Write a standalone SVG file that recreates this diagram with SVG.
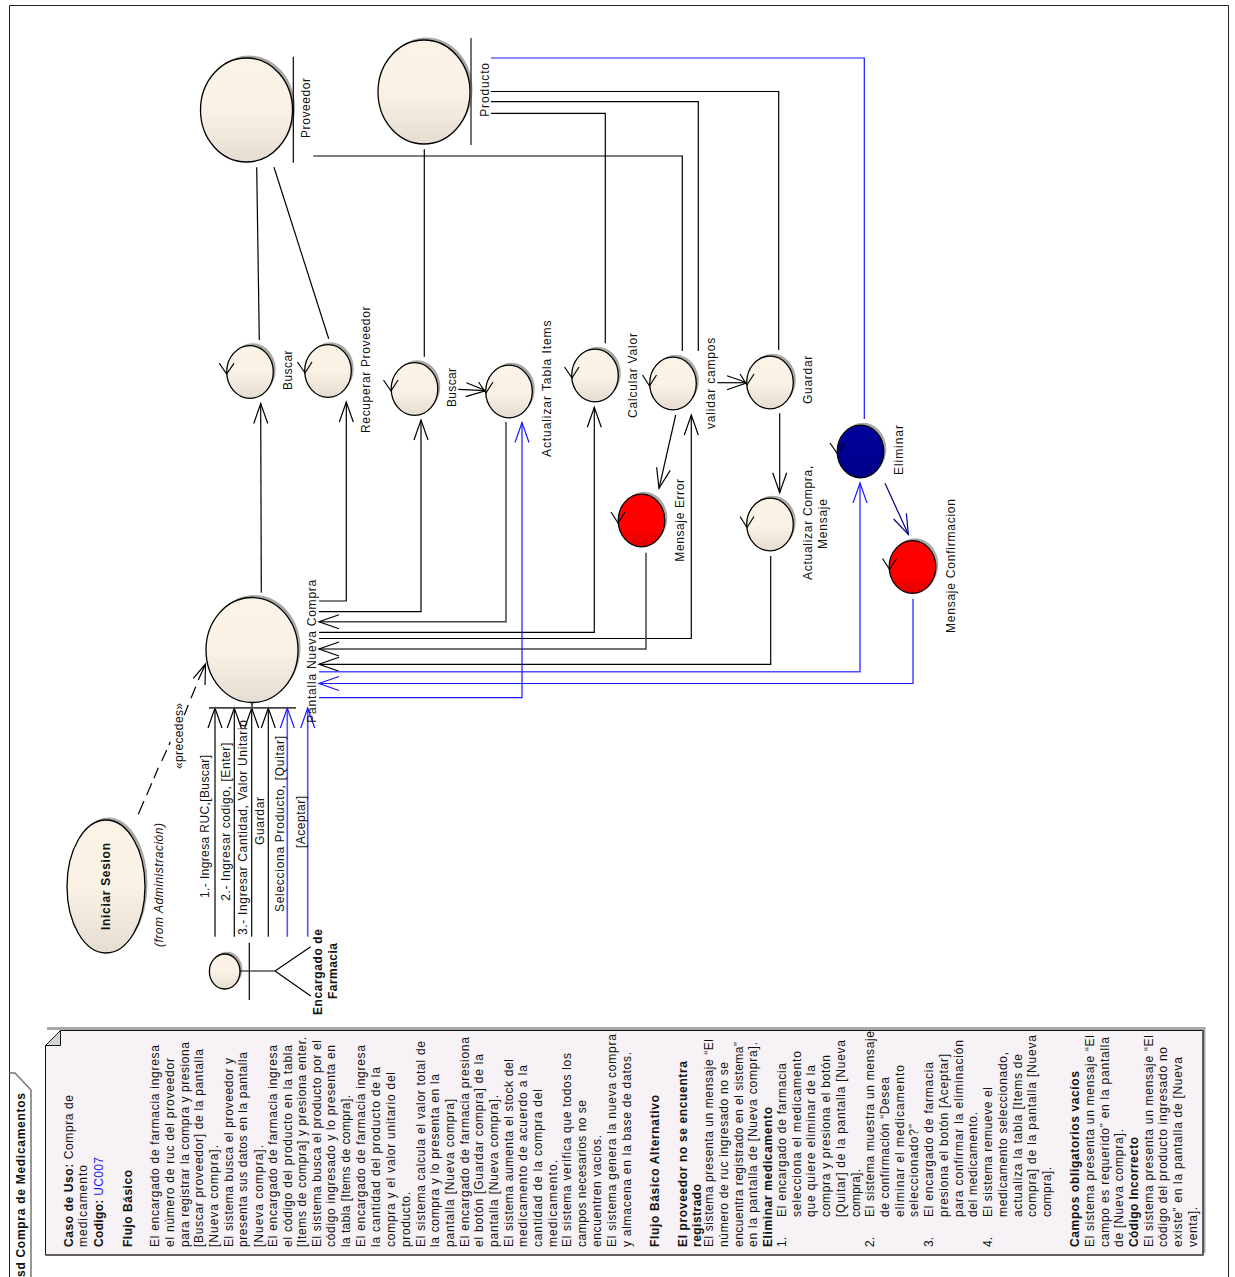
<svg xmlns="http://www.w3.org/2000/svg" width="1235" height="1277" viewBox="0 0 1235 1277">
<style>
text{font-family:"Liberation Sans",Arial,sans-serif;font-size:12px;fill:#111}
.b{font-weight:bold}
.i{font-style:italic}
.s{fill:#a9a7a7;stroke:none}
.n{fill:url(#cream);stroke:#000;stroke-width:1.3}
.r{fill:url(#red);stroke:#000;stroke-width:1.3}
.v{fill:url(#navy);stroke:#000;stroke-width:1.3}
.m{fill:none;stroke:#000;stroke-width:1.2}
.c{fill:none;stroke:#000;stroke-width:1.2}
.c2{fill:none;stroke:#444;stroke-width:1.5}
.bl{fill:none;stroke:#1a1aff;stroke-width:1.2}
.bl2{fill:none;stroke:#5050ff;stroke-width:1.6}
.nv{fill:none;stroke:#00008b;stroke-width:1.2}
.ab{marker-end:url(#ah)}
.au{marker-end:url(#ahb)}
.an{marker-end:url(#ahn)}
</style>
<defs>
<linearGradient id="cream" x1="0" y1="0" x2="0" y2="1"><stop offset="0" stop-color="#FBF3E6"/><stop offset="0.5" stop-color="#FAF2E5"/><stop offset="1" stop-color="#E5DDD1"/></linearGradient>
<linearGradient id="red" x1="0" y1="0" x2="0" y2="1"><stop offset="0" stop-color="#ff0000"/><stop offset="0.65" stop-color="#ff0000"/><stop offset="1" stop-color="#e00000"/></linearGradient>
<linearGradient id="navy" x1="0" y1="0" x2="0" y2="1"><stop offset="0" stop-color="#00009c"/><stop offset="1" stop-color="#00008a"/></linearGradient>
<marker id="ah" markerUnits="userSpaceOnUse" markerWidth="26" markerHeight="20" refX="23" refY="10" orient="auto"><path d="M3,3 L23,10 L3,17" fill="none" stroke="#000" stroke-width="1.2"/></marker>
<marker id="ahb" markerUnits="userSpaceOnUse" markerWidth="26" markerHeight="20" refX="23" refY="10" orient="auto"><path d="M3,3 L23,10 L3,17" fill="none" stroke="#1a1aff" stroke-width="1.2"/></marker>
<marker id="ahn" markerUnits="userSpaceOnUse" markerWidth="26" markerHeight="20" refX="23" refY="10" orient="auto"><path d="M3,3 L23,10 L3,17" fill="none" stroke="#00008b" stroke-width="1.2"/></marker>
</defs>
<rect width="1235" height="1277" fill="#fff"/>
<g id="frame">
<path d="M9.5,1277 V5.5 H1228.5 V1277" fill="none" stroke="#222" stroke-width="1"/>
<path d="M9.5,1073 H15 L31,1090 V1277" fill="none" stroke="#777" stroke-width="1.5"/>
<text class="b" transform="translate(25,1277) rotate(-90)" textLength="184">sd Compra de Medicamentos</text>
</g>
<g id="connectors">
<path class="c ab" d="M261.3,592.7 L260.7,403.5"/>
<path class="c ab" d="M319,601 H346.3 V402"/>
<path class="c ab" d="M319,611.7 H421 V420"/>
<path class="c2 ab" d="M506,422 V621.7 H319"/>
<path class="c ab" d="M319,632.3 H594.3 V407.3"/>
<path class="c ab" d="M319,638.5 H691.3 V415"/>
<path class="c2 ab" d="M646,552.7 V649 H319"/>
<path class="c ab" d="M770.7,556 V664.3 H319"/>
<path class="bl2 au" d="M319,671.7 H860 V483"/>
<path class="bl au" d="M913,598.7 V683.5 H319"/>
<path class="bl au" d="M319,697.7 H522 V422.5"/>
<path class="c" d="M259.3,340 L256.7,167.3"/>
<path class="c" d="M328.7,338.7 L274,167.3"/>
<path class="c" d="M424.3,356.7 V149.3"/>
<path class="c ab" d="M458.3,389.3 L486,390.7"/>
<path class="c ab" d="M717.3,382.7 H747"/>
<path class="c ab" d="M779.7,413.3 V492.7"/>
<path class="c ab" d="M675.7,415 L659,488.3"/>
<path class="nv an" d="M885,483.3 L908.3,534.3"/>
<path class="bl" d="M864.3,419 V58 H491"/>
<path class="c" d="M491,91.5 H778.7 V350"/>
<path class="c" d="M491,101.7 H698.3 V351"/>
<path class="c" d="M491,113.3 H605.3 V343.3"/>
<path class="c" d="M313.3,156 H682.3 V351"/>
<path class="c ab" d="M215,936.7 V708"/>
<path class="c ab" d="M234.3,936.7 V708"/>
<path class="c ab" d="M251.7,936.7 V708"/>
<path class="c ab" d="M268.3,936.7 V708"/>
<path class="bl2 au" d="M287.3,936.7 V708"/>
<path class="bl2 au" d="M307.7,936.7 V708"/>
<path class="c" d="M138.3,814.3 L144,801 M146.7,795 L151.7,783.3 M154,778.3 L158.3,767.7 M161.7,761 L166.7,750 M169,745 L170.3,741.7 M184.3,715 L188.3,705 M191,698.3 L195.7,686.7 M198.3,680 L205.5,664 M193.3,678.3 L205.5,664 L205,685"/>
</g>
<g id="label-actor-msgs">
<text transform="translate(209.3,898) rotate(-90)" textLength="143">1.- Ingresa RUC,[Buscar]</text>
<text transform="translate(230,900.7) rotate(-90)" textLength="158">2.- Ingresar codigo, [Enter]</text>
<text transform="translate(247.3,935) rotate(-90)" textLength="215">3.- Ingresar Cantidad, Valor Unitario</text>
<text transform="translate(264,845) rotate(-90)" textLength="48">Guardar</text>
<text transform="translate(284,912) rotate(-90)" textLength="176">Selecciona Producto, [Quitar]</text>
<text transform="translate(305,848) rotate(-90)" textLength="52">[Aceptar]</text>
<text transform="translate(182.7,769) rotate(-90)" textLength="66">«precedes»</text>
</g>
<g id="uc-iniciar-sesion">
<ellipse class="s" cx="108.5" cy="884" rx="39" ry="66.5"/>
<ellipse class="n" cx="106" cy="886.5" rx="39" ry="66.5"/>
<text class="b" transform="translate(110,930) rotate(-90)" textLength="87">Iniciar Sesion</text>
<text class="i" transform="translate(163,947) rotate(-90)" textLength="124">(from Administración)</text>
</g>
<g id="actor-encargado">
<ellipse class="s" cx="227" cy="969.2" rx="15.3" ry="17.5"/>
<ellipse class="n" cx="224.7" cy="971.5" rx="15.3" ry="17.5"/>
<path class="c" d="M240,971 H275 M249.3,942.7 V1000 M310.7,946.7 L275,971 L310.7,996"/>
<text class="b" transform="translate(321.7,1015) rotate(-90)" textLength="86">Encargado de</text>
<text class="b" transform="translate(337,999) rotate(-90)" textLength="56">Farmacia</text>
</g>
<g id="boundary-pantalla">
<ellipse class="s" cx="254.5" cy="647.5" rx="46" ry="52.5"/>
<ellipse class="n" cx="252" cy="650" rx="46" ry="52.5"/>
<path d="M252,702.5 V708" class="c"/>
<path d="M209,707.8 H296" fill="none" stroke="#444" stroke-width="1.8"/>
<text transform="translate(316,722.7) rotate(-90)" textLength="143">Pantalla Nueva Compra</text>
</g>
<g id="entity-proveedor">
<ellipse class="s" cx="249" cy="107.5" rx="46" ry="52"/>
<ellipse class="n" cx="246.5" cy="110" rx="46" ry="52"/>
<path class="c" d="M293.3,56.7 V162.7"/>
<text transform="translate(310.3,138) rotate(-90)" textLength="60">Proveedor</text>
</g>
<g id="entity-producto">
<ellipse class="s" cx="426.5" cy="89.5" rx="46" ry="52"/>
<ellipse class="n" cx="424" cy="92" rx="46" ry="52"/>
<path d="M471,38 V145" fill="none" stroke="#444" stroke-width="1.5"/>
<text transform="translate(488.5,116.7) rotate(-90)" textLength="53.7">Producto</text>
</g>
<g id="ctl-buscar-1">
<ellipse class="s" cx="252.5" cy="369.5" rx="23.3" ry="26.3"/><ellipse class="n" cx="250" cy="372" rx="23.3" ry="26.3"/>
<path class="m" d="M219.3,363.3 L226.7,374 L234,363.3"/>
<text transform="translate(291.5,390) rotate(-90)" textLength="39.5">Buscar</text>
</g>
<g id="ctl-recuperar-proveedor">
<ellipse class="s" cx="330.5" cy="368.5" rx="23.3" ry="26.3"/><ellipse class="n" cx="328" cy="371" rx="23.3" ry="26.3"/>
<path class="m" d="M297.5,362 L305,373 L312,362"/>
<text transform="translate(370,433) rotate(-90)" textLength="126.5">Recuperar Proveedor</text>
</g>
<g id="ctl-buscar-2">
<ellipse class="s" cx="417" cy="386.5" rx="23.3" ry="26.3"/><ellipse class="n" cx="414.5" cy="389" rx="23.3" ry="26.3"/>
<path class="m" d="M383.5,380 L391,391 L398,380"/>
<text transform="translate(455.7,407) rotate(-90)" textLength="39">Buscar</text>
</g>
<g id="ctl-actualizar-tabla">
<ellipse class="s" cx="511.5" cy="389" rx="23.3" ry="26.3"/><ellipse class="n" cx="509" cy="391.5" rx="23.3" ry="26.3"/>
<path class="m" d="M478.5,382 L486,393 L493,382"/>
<text transform="translate(550.7,457) rotate(-90)" textLength="136.5">Actualizar Tabla Items</text>
</g>
<g id="ctl-calcular-valor">
<ellipse class="s" cx="597.5" cy="373" rx="23.3" ry="26.3"/><ellipse class="n" cx="595" cy="375.5" rx="23.3" ry="26.3"/>
<path class="m" d="M564.5,367 L572,378 L579,367"/>
<text transform="translate(636.7,418) rotate(-90)" textLength="85">Calcular Valor</text>
</g>
<g id="ctl-validar-campos">
<ellipse class="s" cx="675.5" cy="381" rx="23.3" ry="26.3"/><ellipse class="n" cx="673" cy="383.5" rx="23.3" ry="26.3"/>
<path class="m" d="M642.5,375 L649.5,386 L656.5,375"/>
<text transform="translate(715,429) rotate(-90)" textLength="91.3">validar campos</text>
</g>
<g id="ctl-guardar">
<ellipse class="s" cx="772.5" cy="380" rx="23.3" ry="26.3"/><ellipse class="n" cx="770" cy="382.5" rx="23.3" ry="26.3"/>
<path class="m" d="M740,374 L747,385 L754,374"/>
<text transform="translate(812,404) rotate(-90)" textLength="48.3">Guardar</text>
</g>
<g id="ctl-actualizar-compra">
<ellipse class="s" cx="772.5" cy="522" rx="23.3" ry="26.3"/><ellipse class="n" cx="770" cy="524.5" rx="23.3" ry="26.3"/>
<path class="m" d="M740,516.5 L747,527.5 L754,516.5"/>
<text transform="translate(812,580) rotate(-90)" textLength="114.3">Actualizar Compra,</text>
<text transform="translate(827,549) rotate(-90)" textLength="50">Mensaje</text>
</g>
<g id="ctl-mensaje-error">
<ellipse class="s" cx="644" cy="518" rx="23.3" ry="26.3"/><ellipse class="r" cx="641.5" cy="520.5" rx="23.3" ry="26.3"/>
<path class="m" d="M611,512 L618,523 L625,512"/>
<text transform="translate(683.5,561.7) rotate(-90)" textLength="82.7">Mensaje Error</text>
</g>
<g id="ctl-eliminar">
<ellipse class="s" cx="863" cy="449" rx="23.3" ry="26.3"/><ellipse class="v" cx="860.5" cy="451.5" rx="23.3" ry="26.3"/>
<path class="m" d="M830,443 L837.5,454 L844.5,443"/>
<text transform="translate(902.7,475) rotate(-90)" textLength="50">Eliminar</text>
</g>
<g id="ctl-mensaje-confirmacion">
<ellipse class="s" cx="915" cy="564.5" rx="23.3" ry="26.3"/><ellipse class="r" cx="912.5" cy="567" rx="23.3" ry="26.3"/>
<path class="m" d="M882.5,558.5 L889.5,569.5 L896.5,558.5"/>
<text transform="translate(955,633) rotate(-90)" textLength="134">Mensaje Confirmacion</text>
</g>
<g id="note">
<path d="M47,1027 H1205.5 V1253 H1203 V1030 H47Z" fill="#a8a8a8"/>
<path d="M45.5,1045.5 L60.5,1030.5 H1203 V1255 H45.5 Z" fill="#F6F2F6" stroke="#111" stroke-width="1"/>
<path d="M45.5,1255 H1203 V1030" fill="none" stroke="#555" stroke-width="1.6"/>
<path d="M45.5,1045.5 L60.5,1030.5 V1045.5 Z" fill="#d6d3d6" stroke="#111" stroke-width="1"/>
<text transform="translate(72.7,1247) rotate(-90)" textLength="152"><tspan class="b">Caso de Uso:</tspan> Compra de</text>
<text transform="translate(87.3,1247) rotate(-90)" textLength="82">medicamento</text>
<text transform="translate(102.7,1247) rotate(-90)" textLength="90"><tspan class="b">Codigo:</tspan> <tspan fill="#1a1ae0">UC007</tspan></text>
<text class="b" transform="translate(131.7,1247) rotate(-90)" textLength="77">Flujo Básico</text>
<text transform="translate(159.3,1247) rotate(-90)" textLength="202">El encargado de farmacia ingresa</text>
<text transform="translate(174,1247) rotate(-90)" textLength="189">el número de ruc del proveedor</text>
<text transform="translate(188.7,1247) rotate(-90)" textLength="205">para registrar la compra y presiona</text>
<text transform="translate(203.3,1247) rotate(-90)" textLength="198">[Buscar proveedor] de la pantalla</text>
<text transform="translate(218,1247) rotate(-90)" textLength="102">[Nueva compra].</text>
<text transform="translate(232.7,1247) rotate(-90)" textLength="189">El sistema busca el proveedor y</text>
<text transform="translate(247.3,1247) rotate(-90)" textLength="195">presenta sus datos en la pantalla</text>
<text transform="translate(262.5,1247) rotate(-90)" textLength="102">[Nueva compra].</text>
<text transform="translate(277.3,1247) rotate(-90)" textLength="202">El encargado de farmacia ingresa</text>
<text transform="translate(292,1247) rotate(-90)" textLength="202">el código del producto en la tabla</text>
<text transform="translate(306,1247) rotate(-90)" textLength="210">[Items de compra] y presiona enter.</text>
<text transform="translate(320.7,1247) rotate(-90)" textLength="207">El sistema busca el producto por el</text>
<text transform="translate(335.3,1247) rotate(-90)" textLength="202">código ingresado y lo presenta en</text>
<text transform="translate(350,1247) rotate(-90)" textLength="152">la tabla [Items de compra].</text>
<text transform="translate(365.3,1247) rotate(-90)" textLength="202">El encargado de farmacia ingresa</text>
<text transform="translate(380,1247) rotate(-90)" textLength="180">la cantidad del producto de la</text>
<text transform="translate(395.3,1247) rotate(-90)" textLength="175">compra y el valor unitario del</text>
<text transform="translate(409.5,1247) rotate(-90)" textLength="55">producto.</text>
<text transform="translate(424.5,1247) rotate(-90)" textLength="206">El sistema calcula el valor total de</text>
<text transform="translate(439.3,1247) rotate(-90)" textLength="173">la compra y lo presenta en la</text>
<text transform="translate(454,1247) rotate(-90)" textLength="148">pantalla [Nueva compra]</text>
<text transform="translate(468.7,1247) rotate(-90)" textLength="210">El encargado de farmacia presiona</text>
<text transform="translate(483.3,1247) rotate(-90)" textLength="193">el botón [Guardar compra] de la</text>
<text transform="translate(498,1247) rotate(-90)" textLength="152">pantalla [Nueva compra].</text>
<text transform="translate(512.7,1247) rotate(-90)" textLength="188">El sistema aumenta el stock del</text>
<text transform="translate(527.3,1247) rotate(-90)" textLength="182">medicamento de acuerdo a la</text>
<text transform="translate(542,1247) rotate(-90)" textLength="158">cantidad de la compra del</text>
<text transform="translate(556.7,1247) rotate(-90)" textLength="87">medicamento.</text>
<text transform="translate(571.3,1247) rotate(-90)" textLength="194">El sistema verifica que todos los</text>
<text transform="translate(586,1247) rotate(-90)" textLength="147">campos necesarios no se</text>
<text transform="translate(601,1247) rotate(-90)" textLength="112">encuentren vacíos.</text>
<text transform="translate(615.7,1247) rotate(-90)" textLength="213">El sistema genera la nueva compra</text>
<text transform="translate(630.7,1247) rotate(-90)" textLength="195">y almacena en la base de datos.</text>
<text class="b" transform="translate(659.3,1247) rotate(-90)" textLength="152">Flujo Básico Alternativo</text>
<text class="b" transform="translate(686.7,1247) rotate(-90)" textLength="186">El proveedor no se encuentra</text>
<text class="b" transform="translate(700.7,1247) rotate(-90)" textLength="63">registrado</text>
<text transform="translate(713.3,1247) rotate(-90)" textLength="208">El sistema presenta un mensaje “El</text>
<text transform="translate(728,1247) rotate(-90)" textLength="185">número de ruc ingresado no se</text>
<text transform="translate(742.7,1247) rotate(-90)" textLength="205">encuentra registrado en el sistema”</text>
<text transform="translate(757.3,1247) rotate(-90)" textLength="205">en la pantalla de [Nueva compra].</text>
<text class="b" transform="translate(772,1247) rotate(-90)" textLength="140">Eliminar medicamento</text>
<text transform="translate(786,1247) rotate(-90)">1.</text>
<text transform="translate(786,1217) rotate(-90)" textLength="154">El encargado de farmacia</text>
<text transform="translate(800.7,1217) rotate(-90)" textLength="166">selecciona el medicamento</text>
<text transform="translate(815.3,1217) rotate(-90)" textLength="152">que quiere eliminar de la</text>
<text transform="translate(830,1217) rotate(-90)" textLength="162">compra y presiona el botón</text>
<text transform="translate(845,1217) rotate(-90)" textLength="177">[Quitar] de la pantalla [Nueva</text>
<text transform="translate(859.5,1217) rotate(-90)" textLength="48">compra].</text>
<text transform="translate(874.3,1247) rotate(-90)">2.</text>
<text transform="translate(874.3,1217) rotate(-90)" textLength="186">El sistema muestra un mensaje</text>
<text transform="translate(889,1217) rotate(-90)" textLength="140">de confirmación “Desea</text>
<text transform="translate(903.5,1217) rotate(-90)" textLength="152">eliminar el medicamento</text>
<text transform="translate(918.3,1217) rotate(-90)" textLength="93">seleccionado?”</text>
<text transform="translate(933.3,1247) rotate(-90)">3.</text>
<text transform="translate(933.3,1217) rotate(-90)" textLength="155">El encargado de farmacia</text>
<text transform="translate(948,1217) rotate(-90)" textLength="163">presiona el botón [Aceptar]</text>
<text transform="translate(962.7,1217) rotate(-90)" textLength="177">para confirmar la eliminación</text>
<text transform="translate(977.3,1217) rotate(-90)" textLength="105">del medicamento.</text>
<text transform="translate(992,1247) rotate(-90)">4.</text>
<text transform="translate(992,1217) rotate(-90)" textLength="130">El sistema remueve el</text>
<text transform="translate(1006.7,1217) rotate(-90)" textLength="165">medicamento seleccionado,</text>
<text transform="translate(1021.7,1217) rotate(-90)" textLength="163">actualiza la tabla [Items de</text>
<text transform="translate(1036,1217) rotate(-90)" textLength="182">compra] de la pantalla [Nueva</text>
<text transform="translate(1051,1217) rotate(-90)" textLength="50">compra].</text>
<text class="b" transform="translate(1079.3,1247) rotate(-90)" textLength="176">Campos obligatorios vacíos</text>
<text transform="translate(1094,1247) rotate(-90)" textLength="212">El sistema presenta un mensaje “El</text>
<text transform="translate(1108.7,1247) rotate(-90)" textLength="210">campo es requerido” en la pantalla</text>
<text transform="translate(1123.3,1247) rotate(-90)" textLength="118">de [Nueva compra].</text>
<text class="b" transform="translate(1138.3,1247) rotate(-90)" textLength="110">Código Incorrecto</text>
<text transform="translate(1153,1247) rotate(-90)" textLength="212">El sistema presenta un mensaje “El</text>
<text transform="translate(1167.3,1247) rotate(-90)" textLength="200">código del producto ingresado no</text>
<text transform="translate(1182,1247) rotate(-90)" textLength="190">existe” en la pantalla de [Nueva</text>
<text transform="translate(1196.7,1247) rotate(-90)" textLength="40">venta].</text>
</g>
</svg>
